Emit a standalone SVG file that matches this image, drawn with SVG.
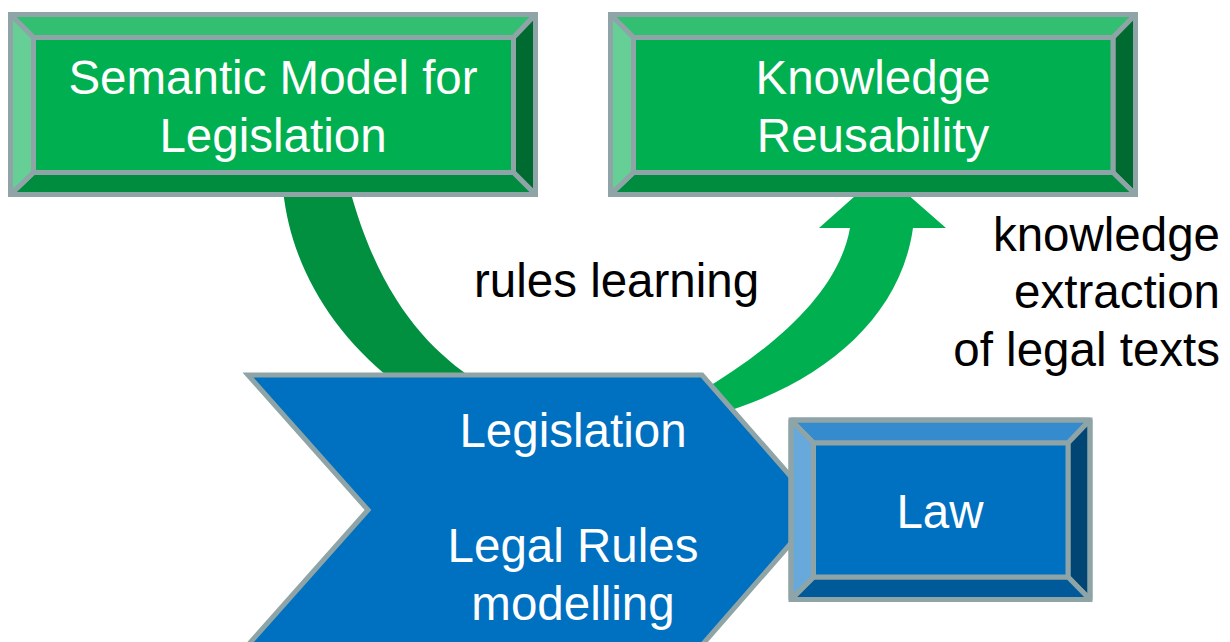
<svg xmlns="http://www.w3.org/2000/svg" width="1230" height="642" viewBox="0 0 1230 642">
<style>
.bv{stroke:#8EA4A6;stroke-width:5;stroke-linejoin:bevel}
.ol{fill:none;stroke:#8EA4A6;stroke-width:5;stroke-linejoin:miter}
.gF{fill:#00AF4F}.gT{fill:#33BF72}.gL{fill:#66CF95}.gR{fill:#006B30}.gB{fill:#008C3F}
.bF{fill:#0070C0}.bT{fill:#348BCD}.bL{fill:#66A9DA}.bR{fill:#004574}.bB{fill:#005A9A}
.wt{font-family:"Liberation Sans",Arial,sans-serif;font-size:47.5px;fill:#FFFFFF;text-anchor:middle}
.bk{font-family:"Liberation Sans",Arial,sans-serif;font-size:47.5px;fill:#000000}
</style>
<rect width="1230" height="642" fill="#FFFFFF"/>
<g id="connectors">
  <path id="arrow-down" d="M283,190 C291,265 330,330 392,380 L475,380 C430,350 380,300 350,190 Z" fill="#009040"/>
  <path id="arrow-up" d="M700,392 C770,350 838,295 850,228 L819,228 L882,172 L946,228 L913,228 C900,320 820,385 715,415 Z" fill="#00B050"/>
</g>
<g id="node-semantic">
  <polygon class="bv gT" points="10.5,14.5 535.5,14.5 513.5,37.5 33.5,37.5"/>
  <polygon class="bv gR" points="535.5,14.5 535.5,194.5 513.5,172.5 513.5,37.5"/>
  <polygon class="bv gB" points="535.5,194.5 10.5,194.5 33.5,172.5 513.5,172.5"/>
  <polygon class="bv gL" points="10.5,194.5 10.5,14.5 33.5,37.5 33.5,172.5"/>
  <rect class="bv gF" x="33.5" y="37.5" width="480" height="135" style="stroke-linejoin:miter"/>
  <rect class="ol" x="10.5" y="14.5" width="525" height="180"/>
  <text class="wt" x="273" y="94">Semantic Model for</text>
  <text class="wt" x="273" y="152">Legislation</text>
</g>
<g id="node-knowledge">
  <polygon class="bv gT" points="610.5,14.5 1135.5,14.5 1113,37.5 633.5,37.5"/>
  <polygon class="bv gR" points="1135.5,14.5 1135.5,194.5 1113,172.5 1113,37.5"/>
  <polygon class="bv gB" points="1135.5,194.5 610.5,194.5 633.5,172.5 1113,172.5"/>
  <polygon class="bv gL" points="610.5,194.5 610.5,14.5 633.5,37.5 633.5,172.5"/>
  <rect class="bv gF" x="633.5" y="37.5" width="479.5" height="135" style="stroke-linejoin:miter"/>
  <rect class="ol" x="610.5" y="14.5" width="525" height="180"/>
  <text class="wt" x="873" y="94">Knowledge</text>
  <text class="wt" x="873" y="152">Reusability</text>
</g>
<g id="label-rules">
  <text class="bk" x="474" y="297">rules learning</text>
</g>
<g id="label-extraction">
  <text class="bk" x="1220" y="251" text-anchor="end">knowledge</text>
  <text class="bk" x="1220" y="308" text-anchor="end">extraction</text>
  <text class="bk" x="1220" y="366" text-anchor="end">of legal texts</text>
</g>
<g id="node-legislation">
  <polygon class="bv bF" points="248,375 702,375 820,510 702,645 248,645 368,510" style="stroke-linejoin:miter"/>
  <text class="wt" x="573" y="447">Legislation</text>
  <text class="wt" x="573" y="562">Legal Rules</text>
  <text class="wt" x="573" y="620">modelling</text>
</g>
<g id="node-law">
  <polygon class="bv bT" points="791,420 1090,420 1068,443 813.5,443"/>
  <polygon class="bv bR" points="1090,420 1090,599.5 1068,577 1068,443"/>
  <polygon class="bv bB" points="1090,599.5 791,599.5 813.5,577 1068,577"/>
  <polygon class="bv bL" points="791,599.5 791,420 813.5,443 813.5,577"/>
  <rect class="bv bF" x="813.5" y="443" width="254.5" height="134" style="stroke-linejoin:miter"/>
  <rect class="ol" x="791" y="420" width="299" height="179.5"/>
  <text class="wt" x="940" y="528">Law</text>
</g>
</svg>
